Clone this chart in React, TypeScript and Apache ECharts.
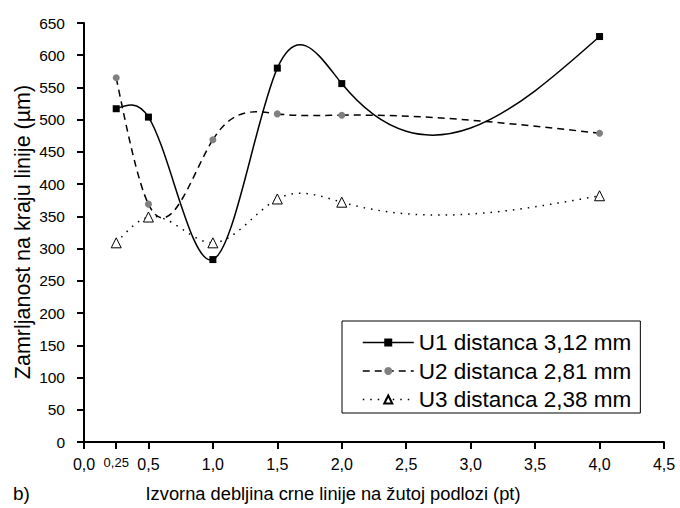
import React, { useEffect, useRef } from "react";
import * as echarts from "echarts";

const xValues = [0.25, 0.5, 1.0, 1.5, 2.0, 4.0];
const u1 = [517, 504, 283, 580, 556, 629];
const u2 = [565, 369, 469, 509, 507, 479];
const u3 = [309, 349, 309, 377, 372, 382];
const xTicks = [0, 0.25, 0.5, 1.0, 1.5, 2.0, 2.5, 3.0, 3.5, 4.0, 4.5];
const seriesNames = ["U1 distanca 3,12 mm", "U2 distanca 2,81 mm", "U3 distanca 2,38 mm"];
const xTitle = "Izvorna debljina crne linije na žutoj podlozi (pt)";
const yTitle = "Zamrljanost na kraju linije (µm)";
const panelLabel = "b)";

const FONT = "'Liberation Sans', Arial, sans-serif";

// natural cubic spline slopes at the knots (used only to shape the drawn curve)
function splineSlopes(xs: number[], ys: number[]) {
  const n = xs.length;
  const h: number[] = [];
  for (let i = 0; i < n - 1; i++) h.push(xs[i + 1] - xs[i]);
  const M = new Array(n).fill(0);
  if (n > 2) {
    const a: number[] = [], b: number[] = [], c: number[] = [], d: number[] = [];
    for (let i = 1; i < n - 1; i++) {
      a.push(h[i - 1]);
      b.push(2 * (h[i - 1] + h[i]));
      c.push(h[i]);
      d.push(6 * ((ys[i + 1] - ys[i]) / h[i] - (ys[i] - ys[i - 1]) / h[i - 1]));
    }
    const m = b.length;
    for (let i = 1; i < m; i++) {
      const w = a[i] / b[i - 1];
      b[i] -= w * c[i - 1];
      d[i] -= w * d[i - 1];
    }
    const sol = new Array(m).fill(0);
    sol[m - 1] = d[m - 1] / b[m - 1];
    for (let i = m - 2; i >= 0; i--) sol[i] = (d[i] - c[i] * sol[i + 1]) / b[i];
    for (let i = 0; i < m; i++) M[i + 1] = sol[i];
  }
  const segs: { s0: number; s1: number }[] = [];
  for (let i = 0; i < n - 1; i++) {
    const sl = (ys[i + 1] - ys[i]) / h[i];
    segs.push({
      s0: sl - (h[i] * (2 * M[i] + M[i + 1])) / 6,
      s1: sl + (h[i] * (M[i] + 2 * M[i + 1])) / 6,
    });
  }
  return segs;
}

export default function App() {
  const ref = useRef<HTMLDivElement>(null);
  useEffect(() => {
    if (!ref.current) return;
    const chart = echarts.init(ref.current, undefined, { renderer: "svg" });
    const pts = (ys: number[]) => xValues.map((x, i) => [x, ys[i]]);

    const curveSeries = (name: string, ys: number[], dash: number[] | null) => {
      const segs = splineSlopes(xValues, ys);
      return {
        name,
        type: "custom",
        data: pts(ys),
        silent: true,
        z: 1,
        renderItem: (params: any, api: any) => {
          const i = params.dataIndex;
          if (i >= xValues.length - 1) return null;
          const x0 = xValues[i], x1 = xValues[i + 1];
          const y0 = ys[i], y1 = ys[i + 1];
          const hh = x1 - x0;
          const p0 = api.coord([x0, y0]);
          const p1 = api.coord([x1, y1]);
          const c0 = api.coord([x0 + hh / 3, y0 + (segs[i].s0 * hh) / 3]);
          const c1 = api.coord([x1 - hh / 3, y1 - (segs[i].s1 * hh) / 3]);
          return {
            type: "bezierCurve",
            shape: { x1: p0[0], y1: p0[1], cpx1: c0[0], cpy1: c0[1], cpx2: c1[0], cpy2: c1[1], x2: p1[0], y2: p1[1] },
            style: { stroke: "#000", lineWidth: 1.5, fill: "none", lineDash: dash || undefined },
          };
        },
      };
    };

    chart.setOption({
      animation: false,
      backgroundColor: "#fff",
      textStyle: { fontFamily: FONT },
      grid: { left: 84, right: 16, top: 23, bottom: 66 },
      xAxis: {
        type: "value",
        min: 0,
        max: 4.5,
        interval: 0.5,
        axisLine: { lineStyle: { color: "#000", width: 2 } },
        axisTick: { show: true, length: 7, lineStyle: { color: "#000", width: 2 }, customValues: xTicks },
        splitLine: { show: false },
        axisLabel: {
          customValues: xTicks,
          color: "#000",
          fontSize: 16,
          margin: 14,
          formatter: (v: number) =>
            Math.abs(v - 0.25) < 1e-6 ? "{s|0,25}" : v.toFixed(1).replace(".", ","),
          rich: { s: { fontSize: 13, color: "#000", fontFamily: FONT } },
        },
      },
      yAxis: {
        type: "value",
        min: 0,
        max: 650,
        interval: 50,
        axisLine: { show: true, lineStyle: { color: "#000", width: 2 } },
        axisTick: { show: true, length: 7, lineStyle: { color: "#000", width: 2 } },
        splitLine: { show: false },
        axisLabel: { color: "#000", fontSize: 15.5, margin: 19 },
      },
      legend: {
        orient: "vertical",
        left: 342,
        top: 321,
        itemWidth: 51,
        itemHeight: 10,
        itemGap: 5.5,
        padding: [10, 9, 2, 20],
        borderColor: "#000",
        borderWidth: 1,
        backgroundColor: "#fff",
        lineStyle: { width: 1.5, color: "#000" },
        textStyle: { color: "#000", fontSize: 22.5, lineHeight: 22, fontFamily: FONT },
        data: seriesNames,
      },
      graphic: [
        {
          type: "text",
          x: 23,
          y: 232,
          rotation: Math.PI / 2,
          style: { text: yTitle, fontSize: 21.5, fontFamily: FONT, fill: "#000", align: "center", verticalAlign: "middle" },
        },
        {
          type: "text",
          x: 333,
          y: 493,
          style: { text: xTitle, fontSize: 18.3, fontFamily: FONT, fill: "#000", align: "center", verticalAlign: "middle" },
        },
        {
          type: "text",
          x: 13,
          y: 493,
          style: { text: panelLabel, fontSize: 19, fontFamily: FONT, fill: "#000", align: "left", verticalAlign: "middle" },
        },
      ],
      series: [
        {
          name: seriesNames[0],
          type: "line",
          data: pts(u1),
          z: 3,
          symbol: "rect",
          symbolSize: 7,
          itemStyle: { color: "#000" },
          lineStyle: { color: "#000", width: 0, type: "solid" },
        },
        {
          name: seriesNames[1],
          type: "line",
          data: pts(u2),
          z: 3,
          symbol: "circle",
          symbolSize: 7,
          itemStyle: { color: "#808080" },
          lineStyle: { color: "#000", width: 0, type: [7, 5] },
        },
        {
          name: seriesNames[2],
          type: "line",
          data: pts(u3),
          z: 3,
          symbol: "triangle",
          symbolSize: 10,
          itemStyle: { color: "#fff", borderColor: "#000", borderWidth: 1 },
          lineStyle: { color: "#000", width: 0, type: [1.5, 6] },
        },
        curveSeries(seriesNames[0], u1, null),
        curveSeries(seriesNames[1], u2, [7, 5]),
        curveSeries(seriesNames[2], u3, [1.5, 6]),
      ],
    });
    return () => chart.dispose();
  }, []);
  return <div ref={ref} style={{ width: 680, height: 508, position: "absolute", left: 0, top: 0 }} />;
}
